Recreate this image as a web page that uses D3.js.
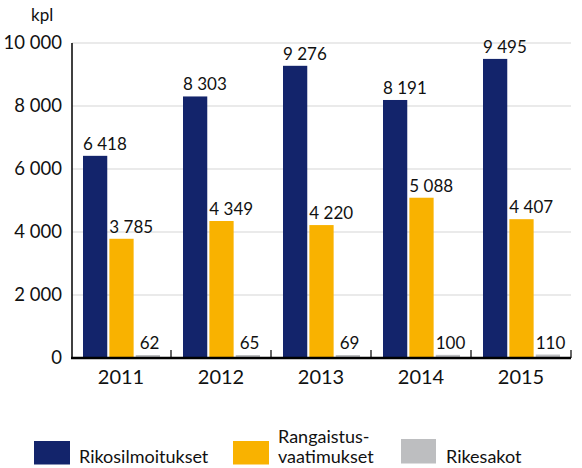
<!DOCTYPE html>
<html>
<head>
<meta charset="utf-8">
<script src="https://cdn.jsdelivr.net/npm/d3@7"></script>
<style>
  body { margin: 0; background: #fff; }
  text { font-family: Lato, "Open Sans", sans-serif; fill: #111; }
</style>
</head>
<body>
<div id="chart"></div>
<script>
// Chart data
const years = ['2011', '2012', '2013', '2014', '2015'];
const seriesNames = ['Rikosilmoitukset', 'Rangaistus-\nvaatimukset', 'Rikesakot'];
const rikosilmoitukset = [6418, 8303, 9276, 8191, 9495];
const rangaistusvaatimukset = [3785, 4349, 4220, 5088, 4407];
const rikesakot = [62, 65, 69, 100, 110];
const yTicks = [0, 2000, 4000, 6000, 8000, 10000];
const colors = ['#13246b', '#f9b200', '#bdbec0'];

const width = 582, height = 468;
const margin = { top: 43, right: 11, bottom: 110, left: 72 };

const svg = d3.select('#chart').append('svg')
  .attr('width', width)
  .attr('height', height);

const x = d3.scaleBand()
  .domain(years)
  .range([margin.left - 1, width - margin.right])
  .paddingInner(0)
  .paddingOuter(0);

const xInner = d3.scaleBand()
  .domain([0, 1, 2])
  .range([12, 89])
  .paddingInner(0.08);

const y = d3.scaleLinear()
  .domain([0, 10000])
  .range([358, margin.top]);

// thousands separated by a space, as in the original
const fmt = v => d3.format(',')(v).replace(/,/g, ' ');

// Grid lines
svg.append('g')
  .selectAll('line')
  .data(yTicks.filter(t => t > 0))
  .enter()
  .append('line')
  .attr('x1', margin.left)
  .attr('x2', width - margin.right)
  .attr('y1', d => y(d))
  .attr('y2', d => y(d))
  .attr('stroke', '#e3e3e3')
  .attr('stroke-width', 1.5);

// Y tick labels
svg.append('g')
  .selectAll('text')
  .data(yTicks)
  .enter()
  .append('text')
  .attr('x', 62)
  .attr('y', d => y(d))
  .attr('dy', '0.35em')
  .attr('text-anchor', 'end')
  .style('font-size', '18.5px')
  .text(d => fmt(d));

svg.append('text')
  .attr('x', 31)
  .attr('y', 21)
  .style('font-size', '17px')
  .text('kpl');

// Bars
const data = [rikosilmoitukset, rangaistusvaatimukset, rikesakot];
const groups = svg.append('g')
  .selectAll('g')
  .data(years)
  .enter()
  .append('g')
  .attr('transform', d => `translate(${x(d)},0)`);

groups.each(function(year, i) {
  const g = d3.select(this);
  data.forEach((series, s) => {
    const v = series[i];
    const top = Math.min(y(v), y(0) - 3);
    g.append('rect')
      .attr('x', xInner(s))
      .attr('width', xInner.bandwidth())
      .attr('y', top)
      .attr('height', y(0) - top)
      .attr('fill', colors[s]);
    g.append('text')
      .attr('x', xInner(s) + (v < 100 ? 4 : 0))
      .attr('y', top - 6)
      .attr('text-anchor', 'start')
      .style('font-size', '17px')
      .text(fmt(v));
  });
});

// Axes
svg.append('line')
  .attr('x1', margin.left)
  .attr('x2', margin.left)
  .attr('y1', margin.top)
  .attr('y2', y(0))
  .attr('stroke', '#000')
  .attr('stroke-width', 1.5);

svg.append('line')
  .attr('x1', margin.left - 1)
  .attr('x2', width - margin.right)
  .attr('y1', y(0))
  .attr('y2', y(0))
  .attr('stroke', '#000')
  .attr('stroke-width', 2.5);

svg.append('g')
  .selectAll('line')
  .data(years)
  .enter()
  .append('line')
  .attr('x1', d => x(d) + x.bandwidth())
  .attr('x2', d => x(d) + x.bandwidth())
  .attr('y1', y(0) - 8)
  .attr('y2', y(0))
  .attr('stroke', '#000')
  .attr('stroke-width', 1.2);

// X labels
svg.append('g')
  .selectAll('text')
  .data(years)
  .enter()
  .append('text')
  .attr('x', d => x(d) + x.bandwidth() / 2)
  .attr('y', 384)
  .attr('text-anchor', 'middle')
  .style('font-size', '20px')
  .text(d => d);

// Legend
const legendX = [34, 233, 401];
const legend = svg.append('g')
  .selectAll('g')
  .data(seriesNames)
  .enter()
  .append('g')
  .attr('transform', (d, i) => `translate(${legendX[i]},0)`);

legend.append('rect')
  .attr('x', 0)
  .attr('y', (d, i) => i === 2 ? 439 : 441)
  .attr('width', (d, i) => i === 2 ? 35 : 36)
  .attr('height', (d, i) => i === 2 ? 24.5 : 23.5)
  .attr('fill', (d, i) => colors[i]);

// each label line as its own text element
legend.each(function(d) {
  const lines = d.split('\n');
  d3.select(this).selectAll('text')
    .data(lines)
    .enter()
    .append('text')
    .attr('x', 45)
    .attr('y', (line, k) => 463 - (lines.length - 1 - k) * 20)
    .style('font-size', '18px')
    .text(line => line);
});
</script>
</body>
</html>
